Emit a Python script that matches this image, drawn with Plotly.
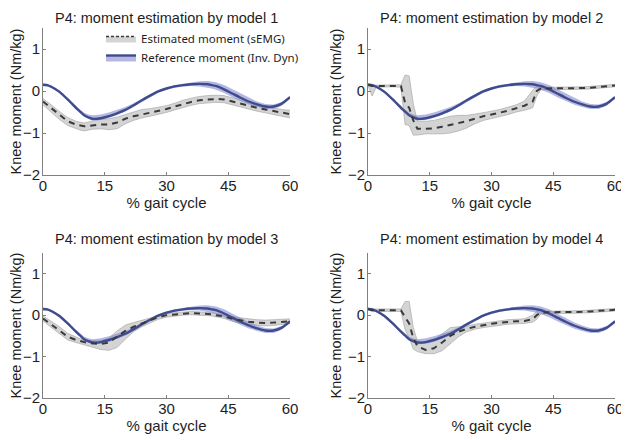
import plotly.graph_objects as go

# ---------------- data ----------------
gait_pct = [0, 1, 2, 4, 6, 8, 9, 10, 11, 12, 14, 16, 18, 20, 22, 24, 26, 28, 30, 32,
            34, 36, 38, 40, 41, 42, 44, 46, 48, 50, 52, 54, 56, 58, 60]

ref_moment = [0.15, 0.14, 0.10, -0.02, -0.20, -0.40, -0.49, -0.58, -0.63, -0.66, -0.65, -0.60,
              -0.53, -0.45, -0.34, -0.22, -0.11, -0.01, 0.06, 0.11, 0.14, 0.16, 0.17, 0.16,
              0.14, 0.12, 0.04, -0.06, -0.16, -0.25, -0.32, -0.37, -0.37, -0.30, -0.15]
ref_hi = [0.18, 0.17, 0.13, 0.01, -0.17, -0.36, -0.44, -0.52, -0.56, -0.58, -0.56, -0.51,
          -0.45, -0.38, -0.29, -0.18, -0.08, 0.02, 0.09, 0.14, 0.17, 0.20, 0.23, 0.24,
          0.23, 0.21, 0.14, 0.04, -0.07, -0.17, -0.25, -0.31, -0.32, -0.26, -0.12]
ref_lo = [0.12, 0.11, 0.07, -0.05, -0.23, -0.43, -0.52, -0.61, -0.66, -0.70, -0.69, -0.64,
          -0.57, -0.49, -0.38, -0.26, -0.14, -0.04, 0.03, 0.08, 0.11, 0.12, 0.11, 0.08,
          0.06, 0.03, -0.05, -0.15, -0.24, -0.32, -0.38, -0.43, -0.43, -0.35, -0.19]

m1_est = [-0.25, -0.33, -0.42, -0.58, -0.72, -0.80, -0.82, -0.84, -0.83, -0.82, -0.80, -0.80,
          -0.75, -0.66, -0.60, -0.56, -0.52, -0.48, -0.43, -0.37, -0.31, -0.26, -0.22, -0.20,
          -0.19, -0.19, -0.20, -0.25, -0.31, -0.36, -0.40, -0.44, -0.48, -0.52, -0.55]
m1_hi = [-0.18, -0.25, -0.33, -0.49, -0.63, -0.72, -0.74, -0.76, -0.74, -0.71, -0.68, -0.66,
         -0.62, -0.56, -0.50, -0.44, -0.42, -0.39, -0.35, -0.29, -0.22, -0.17, -0.13, -0.11,
         -0.10, -0.10, -0.11, -0.16, -0.22, -0.28, -0.32, -0.36, -0.40, -0.44, -0.46]
m1_lo = [-0.33, -0.42, -0.51, -0.68, -0.82, -0.90, -0.93, -0.95, -0.93, -0.91, -0.90, -0.92,
         -0.90, -0.78, -0.70, -0.64, -0.60, -0.56, -0.51, -0.45, -0.39, -0.34, -0.30, -0.28,
         -0.27, -0.27, -0.28, -0.33, -0.39, -0.44, -0.48, -0.52, -0.56, -0.60, -0.64]

m2_est = [0.15, 0.12, 0.12, 0.12, 0.12, 0.12, -0.28, -0.40, -0.70, -0.90, -0.90, -0.89,
          -0.85, -0.81, -0.77, -0.72, -0.66, -0.60, -0.56, -0.52, -0.47, -0.41, -0.35, -0.25,
          0.00, 0.06, 0.06, 0.06, 0.06, 0.06, 0.07, 0.08, 0.10, 0.12, 0.13]
m2_hi = [0.17, 0.14, 0.14, 0.14, 0.14, 0.15, 0.38, 0.36, -0.30, -0.72, -0.72, -0.70,
         -0.65, -0.60, -0.58, -0.58, -0.55, -0.52, -0.48, -0.44, -0.39, -0.33, -0.24, 0.02,
         0.12, 0.09, 0.09, 0.09, 0.09, 0.09, 0.10, 0.11, 0.13, 0.15, 0.16]
m2_lo = [0.13, -0.12, 0.09, 0.10, 0.10, 0.09, -0.80, -0.82, -1.05, -1.05, -1.02, -1.02,
         -1.02, -1.00, -0.95, -0.88, -0.78, -0.70, -0.66, -0.61, -0.56, -0.50, -0.46, -0.40,
         -0.12, 0.03, 0.03, 0.03, 0.03, 0.03, 0.04, 0.05, 0.07, 0.09, 0.10]

m3_est = [-0.08, -0.15, -0.22, -0.36, -0.52, -0.60, -0.63, -0.65, -0.67, -0.68, -0.70, -0.66,
          -0.53, -0.38, -0.28, -0.20, -0.12, -0.05, 0.00, 0.02, 0.04, 0.05, 0.04, 0.03,
          0.02, 0.00, -0.03, -0.09, -0.13, -0.16, -0.18, -0.19, -0.18, -0.17, -0.15]
m3_hi = [-0.02, -0.08, -0.14, -0.28, -0.44, -0.54, -0.57, -0.60, -0.61, -0.62, -0.62, -0.56,
         -0.38, -0.24, -0.18, -0.13, -0.07, -0.01, 0.04, 0.06, 0.08, 0.09, 0.08, 0.07,
         0.06, 0.04, 0.01, -0.04, -0.07, -0.09, -0.11, -0.12, -0.11, -0.10, -0.09]
m3_lo = [-0.14, -0.22, -0.30, -0.44, -0.60, -0.66, -0.69, -0.71, -0.74, -0.78, -0.83, -0.85,
         -0.78, -0.58, -0.40, -0.28, -0.18, -0.10, -0.05, -0.02, 0.00, 0.01, 0.00, -0.01,
         -0.02, -0.04, -0.08, -0.15, -0.20, -0.23, -0.25, -0.26, -0.25, -0.23, -0.20]

m4_est = [0.15, 0.12, 0.12, 0.12, 0.12, 0.12, -0.05, -0.20, -0.55, -0.75, -0.84, -0.80,
          -0.66, -0.50, -0.40, -0.33, -0.28, -0.24, -0.21, -0.18, -0.16, -0.15, -0.14, -0.10,
          0.00, 0.06, 0.07, 0.07, 0.07, 0.07, 0.08, 0.09, 0.10, 0.12, 0.13]
m4_hi = [0.17, 0.15, 0.15, 0.15, 0.15, 0.15, 0.33, 0.33, -0.30, -0.62, -0.66, -0.60,
         -0.45, -0.30, -0.28, -0.26, -0.22, -0.19, -0.16, -0.13, -0.11, -0.10, -0.09, 0.00,
         0.10, 0.09, 0.10, 0.10, 0.10, 0.10, 0.11, 0.12, 0.13, 0.15, 0.16]
m4_lo = [0.13, 0.09, 0.09, 0.09, 0.09, 0.09, -0.35, -0.55, -0.82, -0.88, -0.93, -0.93,
         -0.86, -0.70, -0.52, -0.40, -0.34, -0.30, -0.27, -0.24, -0.22, -0.21, -0.20, -0.17,
         -0.10, 0.03, 0.04, 0.04, 0.04, 0.04, 0.05, 0.06, 0.07, 0.09, 0.10]

titles = ["P4: moment estimation by model 1", "P4: moment estimation by model 2",
          "P4: moment estimation by model 3", "P4: moment estimation by model 4"]
x_ticks = [0, 15, 30, 45, 60]
y_ticks = [-2, -1, 0, 1]
est_name = "Estimated moment (sEMG)"
ref_name = "Reference moment (Inv. Dyn)"
x_title = "% gait cycle"
y_title = "Knee moment (Nm/kg)"

models = [(m1_est, m1_hi, m1_lo), (m2_est, m2_hi, m2_lo),
          (m3_est, m3_hi, m3_lo), (m4_est, m4_hi, m4_lo)]

# ---------------- style ----------------
PAGE_OFF = 8                     # default page margin of the html body
W, H = 629 - PAGE_OFF, 440 - PAGE_OFF
FONT = "Liberation Sans, Arial, sans-serif"
TXT = "#1e1e1e"
BLUE = "#3f4b8f"
BLUE_FILL = "rgba(120,125,200,0.55)"
GRAY_FILL = "rgba(205,205,205,0.85)"
GRAY_EDGE = "#a0a0a0"
DASH_COL = "#3a3a3a"
AXIS_COL = "#808080"


def px_x(p):
    return (p - PAGE_OFF) / W


def px_y(p):
    return 1 - (p - PAGE_OFF) / H


# screen-pixel geometry of the 4 panels: (left, right, top, bottom)
panels = [(43, 290, 28, 175), (368, 615, 28, 175),
          (43, 290, 253, 398), (368, 615, 253, 398)]

fig = go.Figure()
layout = dict(width=W, height=H, margin=dict(l=0, r=0, t=0, b=0, autoexpand=False),
              paper_bgcolor="white", plot_bgcolor="white",
              font=dict(family=FONT, size=14, color=TXT))
annotations = []

for i, (est, hi, lo) in enumerate(models):
    k = "" if i == 0 else str(i + 1)
    xa, ya = "x" + k, "y" + k
    L, R, T, B = panels[i]
    layout["xaxis" + k] = dict(
        domain=[px_x(L), px_x(R)], range=[0, 60], tickvals=x_ticks, anchor=ya,
        automargin=False,
        showline=True, linecolor=AXIS_COL, linewidth=1, showgrid=False, zeroline=False,
        ticks="inside", ticklen=3, tickcolor=AXIS_COL, ticklabelstandoff=-3,
        tickfont=dict(size=15, family=FONT, color=TXT),
        title=dict(text=x_title, font=dict(size=15, family=FONT, color=TXT), standoff=0))
    layout["yaxis" + k] = dict(
        domain=[px_y(B), px_y(T)], range=[-2, 1.5], tickvals=y_ticks, anchor=xa,
        automargin=False,
        showline=True, linecolor=AXIS_COL, linewidth=1, showgrid=False, zeroline=False,
        ticks="inside", ticklen=3, tickcolor=AXIS_COL, ticklabelstandoff=-1,
        tickfont=dict(size=15, family=FONT, color=TXT),
        title=dict(text=y_title, font=dict(size=14.5, family=FONT, color=TXT), standoff=2))
    top_of_title = 8 if i < 2 else T - 24
    annotations.append(dict(text=titles[i], xref="paper", yref="paper",
                            x=px_x((L + R) / 2), y=px_y(top_of_title), showarrow=False,
                            xanchor="center", yanchor="top",
                            font=dict(size=14.5, family=FONT, color=TXT)))

    # estimated band
    fig.add_trace(go.Scatter(x=gait_pct, y=lo, xaxis=xa, yaxis=ya, mode="lines",
                             line=dict(color=GRAY_EDGE, width=0.6), showlegend=False,
                             hoverinfo="skip"))
    fig.add_trace(go.Scatter(x=gait_pct, y=hi, xaxis=xa, yaxis=ya, mode="lines",
                             fill="tonexty", fillcolor=GRAY_FILL,
                             line=dict(color=GRAY_EDGE, width=0.6), showlegend=False,
                             hoverinfo="skip"))
    # reference band
    fig.add_trace(go.Scatter(x=gait_pct, y=ref_lo, xaxis=xa, yaxis=ya, mode="lines",
                             line=dict(width=0), showlegend=False, hoverinfo="skip"))
    fig.add_trace(go.Scatter(x=gait_pct, y=ref_hi, xaxis=xa, yaxis=ya, mode="lines",
                             fill="tonexty", fillcolor=BLUE_FILL, line=dict(width=0),
                             showlegend=False, hoverinfo="skip"))
    # reference line
    fig.add_trace(go.Scatter(x=gait_pct, y=ref_moment, xaxis=xa, yaxis=ya, mode="lines",
                             line=dict(color=BLUE, width=2.4, shape="spline", smoothing=0.6),
                             name=ref_name, showlegend=False))
    # estimated line
    fig.add_trace(go.Scatter(x=gait_pct, y=est, xaxis=xa, yaxis=ya, mode="lines",
                             line=dict(color=DASH_COL, width=2, dash="6px,5px"),
                             name=est_name, showlegend=False))

# legend entries (panel 1)
fig.add_trace(go.Scatter(x=[None], y=[None], mode="lines", name=est_name,
                         line=dict(color=DASH_COL, width=1.5, dash="3px,2px"),
                         fill="toself", fillcolor=GRAY_FILL))
fig.add_trace(go.Scatter(x=[None], y=[None], mode="lines", name=ref_name,
                         line=dict(color=BLUE, width=2.4),
                         fill="toself", fillcolor=BLUE_FILL))

layout["annotations"] = annotations
layout["legend"] = dict(x=px_x(101), y=px_y(24), xanchor="left", yanchor="top",
                        traceorder="normal", bgcolor="rgba(0,0,0,0)", itemwidth=30,
                        tracegroupgap=0,
                        font=dict(size=11.5, family="Noto Sans, sans-serif", color=TXT))
fig.update_layout(**layout)
fig.write_html("out.html")
